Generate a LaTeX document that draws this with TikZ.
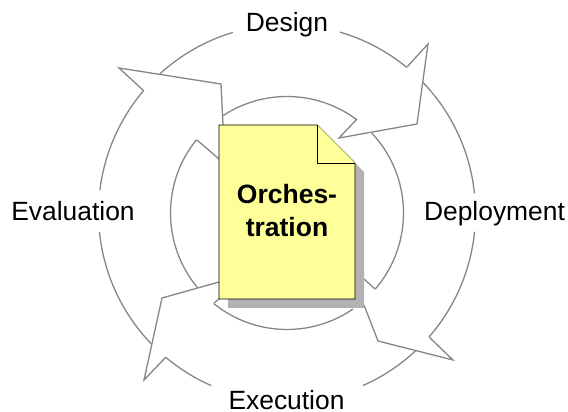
\documentclass[tikz,border=0pt]{standalone}
\usepackage{fontspec}
\setmainfont{Liberation Sans}
\usetikzlibrary{calc}
\def\outerr{188.5}
\def\innerr{116.5}
\def\doctop{287}
\definecolor{notepaper}{HTML}{FFFF99}
\definecolor{ringgray}{HTML}{868686}
\definecolor{noteshadow}{HTML}{B2B2B2}

\begin{document}
\begin{tikzpicture}[
	x=1pt,y=1pt,
	ring/.style={draw=ringgray,line width=1.3pt,line join=miter},
	phase/.style={font=\fontsize{26.4}{30}\selectfont,inner sep=0pt,anchor=base},
	title/.style={font=\fontsize{26.5}{30}\bfseries\selectfont,inner sep=0pt,anchor=base},
	note/.style={draw=black,line width=0.8pt,fill=notepaper,line join=miter}
	]
	\useasboundingbox (0,0) rectangle (568,412);
	\coordinate (centre) at (287,199);
	
	% outer ring
	\draw[ring] ($(centre)+(106.7:\outerr)$) arc (106.7:132.4:\outerr);
	\draw[ring] ($(centre)+(73.7:\outerr)$) arc (73.7:50.6:\outerr);
	\draw[ring] ($(centre)+(43.9:\outerr)$) arc (43.9:6:\outerr);
	\draw[ring] ($(centre)+(-5.7:\outerr)$) arc (-5.7:-41.1:\outerr);
	\draw[ring] ($(centre)+(-46.9:\outerr)$) arc (-46.9:-66.2:\outerr);
	\draw[ring] ($(centre)+(-113.7:\outerr)$) arc (-113.7:-130:\outerr);
	\draw[ring] ($(centre)+(-136:\outerr)$) arc (-136:-174.2:\outerr);
	\draw[ring] ($(centre)+(173:\outerr)$) arc (173:139.5:\outerr);
	
	% inner ring
	\draw[ring] ($(centre)+(123.7:\innerr)$) arc (123.7:53.3:\innerr);
	\draw[ring] ($(centre)+(43.3:\innerr)$) arc (43.3:-40.8:\innerr);
	\draw[ring] ($(centre)+(-55.5:\innerr)$) arc (-55.5:-129:\innerr);
	\draw[ring] ($(centre)+(-140:\innerr)$) arc (-140:-219:\innerr);
	
	% arrow heads
	\draw[ring] (144,321) -- (119,344) -- (221,328) -- (223,\doctop);
	\draw[ring] (407,345) -- (428,368) -- (417,288) -- (339,274) -- (357,293);
	\draw[ring] (429,75) -- (453,52) -- (378,71) -- (364,107);
	\draw[ring] (166,55) -- (144,32) -- (162,114) -- (219,130);
	\draw[ring] (197,272) -- (219,253);
	\draw[ring] (375,123) -- (364,133);
	\draw[ring] (214,109) -- (219,113);
	
	% document
	\fill[noteshadow] (228,104) -- (364,104) -- (364,240) -- (355,249) -- (355,113) -- (228,113) -- cycle;
	\draw[note] (219,\doctop) coordinate (doc) -- (317,\doctop) -- (355,249) -- (355,113) -- (219,113) -- cycle;
	\draw[note] (317,\doctop) -- (317,249) -- (355,249);
	\node[title] (orches) at (287,208) {Orches-};
	\node[title] (tration) at (287,175) {tration};
	
	\node[phase] (design) at (287,380) {Design};
	\node[phase] (evaluation) at (73,191) {Evaluation};
	\node[phase] (deployment) at (494.5,191) {Deployment};
	\node[phase] (execution) at (286.5,2.5) {Execution};
\end{tikzpicture}
\end{document}
